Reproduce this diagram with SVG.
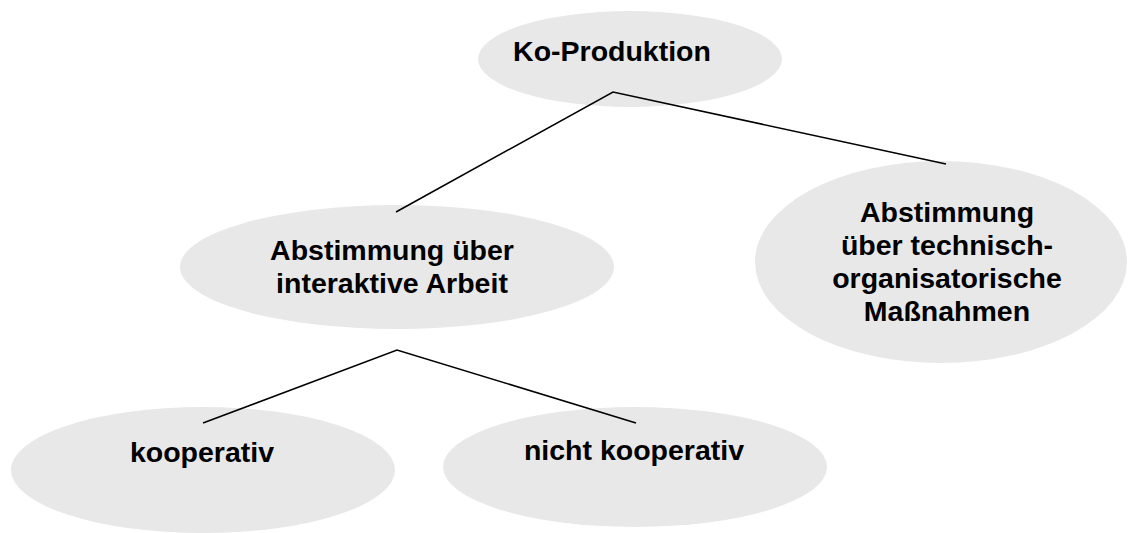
<svg xmlns="http://www.w3.org/2000/svg" width="1129" height="533" viewBox="0 0 1129 533">
<style>
.n{fill:#e8e8e8;stroke:none}
.t{font-family:"Liberation Sans",Arial,sans-serif;font-weight:bold;font-size:28.5px;fill:#000;text-anchor:middle}
.c{stroke:#000;stroke-width:1.6;fill:none}
</style>
<rect width="1129" height="533" fill="#fff"/>
<g id="n-koproduktion">
<ellipse class="n" cx="630" cy="59" rx="152" ry="48"/>
<text class="t" x="612" y="61">Ko-Produktion</text>
</g>
<g id="n-interaktiv">
<ellipse class="n" cx="397" cy="267" rx="217" ry="62"/>
<text class="t" x="392" y="260">Abstimmung über</text>
<text class="t" x="392" y="293">interaktive Arbeit</text>
</g>
<g id="n-technisch">
<ellipse class="n" cx="941" cy="262" rx="186" ry="101"/>
<text class="t" x="947" y="222">Abstimmung</text>
<text class="t" x="947" y="255">über technisch-</text>
<text class="t" x="947" y="288">organisatorische</text>
<text class="t" x="947" y="321">Maßnahmen</text>
</g>
<g id="n-kooperativ">
<ellipse class="n" cx="203" cy="470" rx="192" ry="63"/>
<text class="t" x="202" y="462">kooperativ</text>
</g>
<g id="n-nicht-kooperativ">
<ellipse class="n" cx="635" cy="467" rx="192" ry="60"/>
<text class="t" x="634" y="460">nicht kooperativ</text>
</g>
<g id="connectors">
<polyline class="c" points="396,212 613,92 946,164"/>
<polyline class="c" points="203,423 397,350 636,423"/>
</g>
</svg>
